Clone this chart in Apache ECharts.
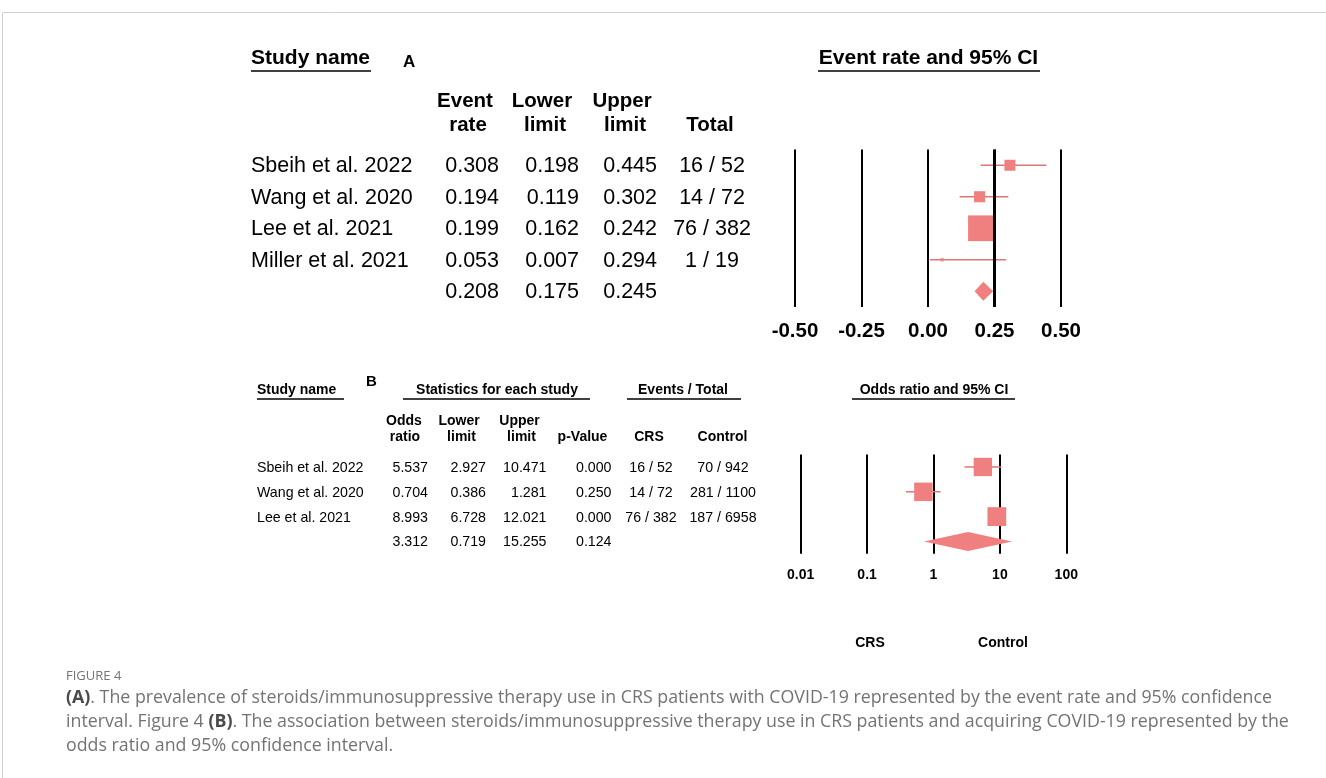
<!DOCTYPE html>
<html><head><meta charset="utf-8">
<script src="https://cdn.jsdelivr.net/npm/echarts@6/dist/echarts.min.js"></script>
<style>html,body{margin:0;padding:0;background:#fff;}#c{width:1326px;height:778px;}</style>
</head><body><div id="c"></div>
<script>
// ---------- Panel A data ----------
const studiesA = ['Sbeih et al. 2022', 'Wang et al. 2020', 'Lee et al. 2021', 'Miller et al. 2021'];
const rateA = [0.308, 0.194, 0.199, 0.053];
const lowerA = [0.198, 0.119, 0.162, 0.007];
const upperA = [0.445, 0.302, 0.242, 0.294];
const eventsA = [16, 14, 76, 1];
const totalA = [52, 72, 382, 19];
const summaryA = [0.208, 0.175, 0.245];
const ticksA = [-0.5, -0.25, 0, 0.25, 0.5];

// ---------- Panel B data ----------
const studiesB = ['Sbeih et al. 2022', 'Wang et al. 2020', 'Lee et al. 2021'];
const orB = [5.537, 0.704, 8.993];
const lowerB = [2.927, 0.386, 6.728];
const upperB = [10.471, 1.281, 12.021];
const pValueB = [0.000, 0.250, 0.000];
const crsEventsB = [16, 14, 76];
const crsTotalB = [52, 72, 382];
const ctrlEventsB = [70, 281, 187];
const ctrlTotalB = [942, 1100, 6958];
const summaryB = [3.312, 0.719, 15.255];
const summaryPB = 0.124;
const ticksB = [0.01, 0.1, 1, 10, 100];

const FONT = '"Liberation Sans", Arial, Helvetica, sans-serif';
const CAPFONT = '"Open Sans", "Noto Sans", sans-serif';
const FILL = '#f08080';
const CI = '#d87878';
const CAPCOL = '#737373';

// weights: panel A fixed-effect (logit) ; panel B DerSimonian-Laird random effects (log OR)
const wA = rateA.map((p, i) => totalA[i] * p * (1 - p));
const yB = orB.map(Math.log);
const vB = lowerB.map((l, i) => Math.pow((Math.log(upperB[i]) - Math.log(l)) / 3.92, 2));
const wFE = vB.map(v => 1 / v);
const sw = wFE.reduce((a, b) => a + b, 0);
const ybar = wFE.reduce((a, w, i) => a + w * yB[i], 0) / sw;
const Q = wFE.reduce((a, w, i) => a + w * Math.pow(yB[i] - ybar, 2), 0);
const Cc = sw - wFE.reduce((a, w) => a + w * w, 0) / sw;
const tau2 = Math.max(0, (Q - (yB.length - 1)) / Cc);
const wB = vB.map(v => 1 / (v + tau2));

const f3 = v => v.toFixed(3);

function T(x, y, s, size, o) {
  o = o || {};
  const al = o.align || 'left';
  return { type: 'text', silent: true, z: 10,
    style: { text: s, x: x, y: y, font: (o.bold ? 'bold ' : '') + size + 'px ' + (o.family || FONT),
      fill: o.color || '#000', textAlign: al, align: al, textVerticalAlign: 'middle', verticalAlign: 'middle', rich: o.rich } };
}
function U(x1, x2, y) {
  return { type: 'line', silent: true, shape: { x1: x1, y1: y, x2: x2, y2: y }, style: { stroke: '#000', lineWidth: 1.5 } };
}

function studyItem(params, api) {
  const est = api.value(0), lo = api.value(1), hi = api.value(2), row = api.value(3), side = api.value(4);
  const a = api.coord([lo, row]), b = api.coord([hi, row]), e = api.coord([est, row]);
  return { type: 'group', children: [
    { type: 'line', shape: { x1: a[0], y1: a[1], x2: b[0], y2: b[1] }, style: { stroke: CI, lineWidth: 1.5 } },
    { type: 'rect', shape: { x: e[0] - side / 2, y: e[1] - side / 2, width: side, height: side }, style: { fill: FILL } }
  ] };
}
function diamondItem(halfH) {
  return function (params, api) {
    const est = api.value(0), lo = api.value(1), hi = api.value(2), row = api.value(3);
    const a = api.coord([lo, row]), b = api.coord([hi, row]), e = api.coord([est, row]);
    return { type: 'polygon', shape: { points: [[a[0], a[1]], [e[0], e[1] - halfH], [b[0], b[1]], [e[0], e[1] + halfH]] }, style: { fill: FILL } };
  };
}

// table rows drawn at the row positions of the y axes
function tableA(params, api) {
  const i = api.value(0);
  const y = api.coord([0, i])[1] + 1;
  const ch = [];
  const S = 21.5;
  if (i < studiesA.length) {
    ch.push(T(251, y, studiesA[i], S));
    ch.push(T(499, y, f3(rateA[i]), S, { align: 'right' }));
    ch.push(T(579, y, f3(lowerA[i]), S, { align: 'right' }));
    ch.push(T(657, y, f3(upperA[i]), S, { align: 'right' }));
    ch.push(T(712, y, eventsA[i] + ' / ' + totalA[i], S, { align: 'center' }));
  } else {
    ch.push(T(499, y, f3(summaryA[0]), S, { align: 'right' }));
    ch.push(T(579, y, f3(summaryA[1]), S, { align: 'right' }));
    ch.push(T(657, y, f3(summaryA[2]), S, { align: 'right' }));
  }
  return { type: 'group', children: ch };
}
function tableB(params, api) {
  const i = api.value(0);
  const y = api.coord([1, i])[1] + 1;
  const ch = [];
  const S = 14.2;
  if (i < studiesB.length) {
    ch.push(T(257, y, studiesB[i], S));
    ch.push(T(428, y, f3(orB[i]), S, { align: 'right' }));
    ch.push(T(486, y, f3(lowerB[i]), S, { align: 'right' }));
    ch.push(T(546.5, y, f3(upperB[i]), S, { align: 'right' }));
    ch.push(T(611.5, y, f3(pValueB[i]), S, { align: 'right' }));
    ch.push(T(651, y, crsEventsB[i] + ' / ' + crsTotalB[i], S, { align: 'center' }));
    ch.push(T(723, y, ctrlEventsB[i] + ' / ' + ctrlTotalB[i], S, { align: 'center' }));
  } else {
    ch.push(T(428, y, f3(summaryB[0]), S, { align: 'right' }));
    ch.push(T(486, y, f3(summaryB[1]), S, { align: 'right' }));
    ch.push(T(546.5, y, f3(summaryB[2]), S, { align: 'right' }));
    ch.push(T(611.5, y, f3(summaryPB), S, { align: 'right' }));
  }
  return { type: 'group', children: ch };
}

const rowsA = studiesA.map((s, i) => [i]).concat([[studiesA.length]]);
const rowsB = studiesB.map((s, i) => [i]).concat([[studiesB.length]]);

const chart = echarts.init(document.getElementById('c'), null, { renderer: 'canvas' });

const CAPS = 17.8;
const richB = { b: { fontWeight: 'bold', fontFamily: CAPFONT, fontSize: CAPS, fill: '#4a4a4a', color: '#4a4a4a' } };
const graphics = [
  { type: 'line', silent: true, shape: { x1: 2.5, y1: 12.5, x2: 1326, y2: 12.5 }, style: { stroke: '#d0d0d0', lineWidth: 1 } },
  { type: 'line', silent: true, shape: { x1: 2.5, y1: 12.5, x2: 2.5, y2: 778 }, style: { stroke: '#d0d0d0', lineWidth: 1 } },
  // Panel A headers
  T(251, 58, 'Study name', 21, { bold: true }), U(251, 371, 71),
  T(403, 62, 'A', 17, { bold: true }),
  T(928.5, 58, 'Event rate and 95% CI', 21, { bold: true, align: 'center' }), U(818, 1040, 71),
  T(465, 101, 'Event', 20.5, { bold: true, align: 'center' }), T(468, 125, 'rate', 20.5, { bold: true, align: 'center' }),
  T(542, 101, 'Lower', 20.5, { bold: true, align: 'center' }), T(545, 125, 'limit', 20.5, { bold: true, align: 'center' }),
  T(622, 101, 'Upper', 20.5, { bold: true, align: 'center' }), T(625, 125, 'limit', 20.5, { bold: true, align: 'center' }),
  T(710, 125, 'Total', 20.5, { bold: true, align: 'center' }),
  // Panel B headers
  T(257, 390, 'Study name', 14, { bold: true }), U(257, 344, 399),
  T(366, 382, 'B', 15, { bold: true }),
  T(497, 390, 'Statistics for each study', 14, { bold: true, align: 'center' }), U(403, 590, 399),
  T(683, 390, 'Events / Total', 14, { bold: true, align: 'center' }), U(627, 741, 399),
  T(934, 390, 'Odds ratio and 95% CI', 14, { bold: true, align: 'center' }), U(852, 1015, 399),
  T(404, 421, 'Odds', 14, { bold: true, align: 'center' }), T(405, 437, 'ratio', 14, { bold: true, align: 'center' }),
  T(459, 421, 'Lower', 14, { bold: true, align: 'center' }), T(461.5, 437, 'limit', 14, { bold: true, align: 'center' }),
  T(519.5, 421, 'Upper', 14, { bold: true, align: 'center' }), T(521.5, 437, 'limit', 14, { bold: true, align: 'center' }),
  T(582.5, 437, 'p-Value', 14, { bold: true, align: 'center' }),
  T(649, 437, 'CRS', 14, { bold: true, align: 'center' }),
  T(722.5, 437, 'Control', 14, { bold: true, align: 'center' }),
  T(870, 643, 'CRS', 14, { bold: true, align: 'center' }),
  T(1003, 643, 'Control', 14, { bold: true, align: 'center' }),
  // caption
  T(66, 676, 'FIGURE 4', 13, { family: CAPFONT, color: CAPCOL }),
  T(66, 698, '{b|(A)}. The prevalence of steroids/immunosuppressive therapy use in CRS patients with COVID-19 represented by the event rate and 95% confidence', CAPS, { family: CAPFONT, color: CAPCOL, rich: richB }),
  T(66, 722, 'interval. Figure 4 {b|(B)}. The association between steroids/immunosuppressive therapy use in CRS patients and acquiring COVID-19 represented by the', CAPS, { family: CAPFONT, color: CAPCOL, rich: richB }),
  T(66, 746, 'odds ratio and 95% confidence interval.', CAPS, { family: CAPFONT, color: CAPCOL })
];

const axisLineOff = { show: false };
chart.setOption({
  animation: false,
  backgroundColor: '#fff',
  graphic: { elements: graphics },
  grid: [
    { left: 795, top: 149.5, width: 266, height: 157.5 },
    { left: 800.7, top: 454.6, width: 265.6, height: 99.2 }
  ],
  xAxis: [
    { gridIndex: 0, type: 'value', min: ticksA[0], max: ticksA[ticksA.length - 1], interval: 0.25,
      axisLine: axisLineOff, axisTick: { show: false },
      splitLine: { show: true, lineStyle: { color: '#000', width: 2 } },
      axisLabel: { margin: 14, color: '#000', fontFamily: FONT, fontWeight: 'bold', fontSize: 20.5, formatter: v => v.toFixed(2) } },
    { gridIndex: 1, type: 'log', logBase: 10, min: ticksB[0], max: ticksB[ticksB.length - 1],
      axisLine: axisLineOff, axisTick: { show: false },
      splitLine: { show: true, lineStyle: { color: '#000', width: 2 } },
      axisLabel: { margin: 14, color: '#000', fontFamily: FONT, fontWeight: 'bold', fontSize: 14, formatter: v => String(+(+v).toPrecision(3)) } }
  ],
  yAxis: [
    { gridIndex: 0, type: 'value', min: -0.5, max: studiesA.length + 0.5, inverse: true, show: false },
    { gridIndex: 1, type: 'value', min: -0.5, max: studiesB.length + 0.5, inverse: true, show: false }
  ],
  series: [
    { type: 'custom', xAxisIndex: 0, yAxisIndex: 0, clip: false, renderItem: studyItem,
      encode: { x: [0, 1, 2], y: 3 },
      data: rateA.map((r, i) => [r, lowerA[i], upperA[i], i, 3.3 * Math.sqrt(wA[i])]),
      markLine: { silent: true, symbol: 'none', label: { show: false }, lineStyle: { color: '#000', width: 3, type: 'solid' }, data: [{ xAxis: 0.25 }] } },
    { type: 'custom', xAxisIndex: 0, yAxisIndex: 0, clip: false, renderItem: diamondItem(9.5),
      encode: { x: [0, 1, 2], y: 3 },
      data: [[summaryA[0], summaryA[1], summaryA[2], studiesA.length]] },
    { type: 'custom', xAxisIndex: 0, yAxisIndex: 0, clip: false, renderItem: tableA, encode: { y: 0 }, data: rowsA },
    { type: 'custom', xAxisIndex: 1, yAxisIndex: 1, clip: false, renderItem: studyItem,
      encode: { x: [0, 1, 2], y: 3 },
      data: orB.map((r, i) => [r, lowerB[i], upperB[i], i, 25 * Math.sqrt(wB[i])]) },
    { type: 'custom', xAxisIndex: 1, yAxisIndex: 1, clip: false, renderItem: diamondItem(9.5),
      encode: { x: [0, 1, 2], y: 3 },
      data: [[summaryB[0], summaryB[1], summaryB[2], studiesB.length]] },
    { type: 'custom', xAxisIndex: 1, yAxisIndex: 1, clip: false, renderItem: tableB, encode: { y: 0 }, data: rowsB }
  ]
});
</script></body></html>
